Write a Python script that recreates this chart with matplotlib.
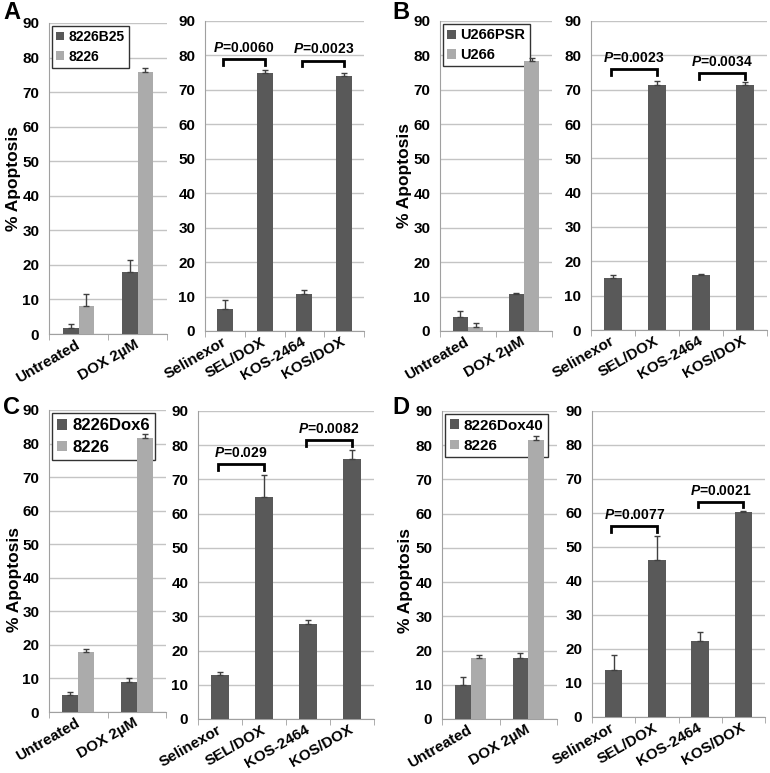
import numpy as np
import matplotlib
matplotlib.use("Agg")
import matplotlib.pyplot as plt

plt.rcParams["font.family"] = ["Liberation Sans", "DejaVu Sans"]
plt.rcParams["font.weight"] = "bold"
plt.rcParams["axes.labelweight"] = "bold"
plt.rcParams["mathtext.fontset"] = "custom"
plt.rcParams["mathtext.it"] = "Liberation Sans:italic:bold"
plt.rcParams["mathtext.rm"] = "Liberation Sans:bold"

DARK = "#595959"
LIGHT = "#ababab"
GRID = "#c4c4c4"
SPINE = "#a0a0a0"

GROUPS = ["Untreated", "DOX 2µM"]
DRUGS = ["Selinexor", "SEL/DOX", "KOS-2464", "KOS/DOX"]

# panel A
A_NAMES = ["8226B25", "8226"]
A_RES = [1.8, 17.8]
A_RES_ERR = [1.2, 3.6]
A_PAR = [8.2, 75.7]
A_PAR_ERR = [3.5, 1.3]
A_DRUG = [6.5, 75.0, 10.7, 74.0]
A_DRUG_ERR = [2.5, 0.7, 1.3, 0.8]
A_P = ["0.0060", "0.0023"]

# panel B
B_NAMES = ["U266PSR", "U266"]
B_RES = [4.0, 10.8]
B_RES_ERR = [1.7, 0.3]
B_PAR = [1.2, 78.3]
B_PAR_ERR = [1.0, 1.0]
B_DRUG = [15.1, 71.3, 16.0, 71.5]
B_DRUG_ERR = [1.0, 1.3, 0.2, 0.6]
B_P = ["0.0023", "0.0034"]

# panel C
C_NAMES = ["8226Dox6", "8226"]
C_RES = [5.0, 8.8]
C_RES_ERR = [1.0, 1.2]
C_PAR = [17.8, 81.7]
C_PAR_ERR = [1.0, 1.0]
C_DRUG = [12.9, 65.0, 27.9, 76.0]
C_DRUG_ERR = [0.8, 6.2, 0.9, 2.6]
C_P = ["0.029", "0.0082"]

# panel D
D_NAMES = ["8226Dox40", "8226"]
D_RES = [10.0, 17.7]
D_RES_ERR = [2.2, 1.5]
D_PAR = [17.8, 81.5]
D_PAR_ERR = [0.8, 1.3]
D_DRUG = [13.7, 46.2, 22.3, 60.3]
D_DRUG_ERR = [4.4, 7.0, 2.6, 0.2]
D_P = ["0.0077", "0.0021"]

W, H = 770, 773
fig = plt.figure(figsize=(W / 100, H / 100), dpi=100, facecolor="white")


def px_axes(x0, x1, ytop, ybot):
    return fig.add_axes([x0 / W, 1 - ybot / H, (x1 - x0) / W, (ybot - ytop) / H])


def style(ax, ncat):
    ax.set_ylim(0, 90)
    ax.set_xlim(-0.5, ncat - 0.5)
    ax.set_yticks(range(0, 91, 10))
    ax.yaxis.grid(True, color=GRID, lw=1)
    ax.set_axisbelow(True)
    for s in ["top", "right"]:
        ax.spines[s].set_visible(False)
    for s in ["left", "bottom"]:
        ax.spines[s].set_color(SPINE)
    ax.tick_params(axis="y", length=0, pad=7, labelsize=11)
    ax.set_xticks(np.arange(ncat))
    ax.set_xticks(np.arange(ncat + 1) - 0.5, minor=True)
    ax.tick_params(axis="x", which="major", length=0, pad=7, labelsize=11)
    ax.tick_params(axis="x", which="minor", length=4, color=SPINE)
    for lab in ax.get_yticklabels():
        lab.set_fontweight("bold")
    for lab in ax.get_xticklabels():
        lab.set_fontweight("bold")
        lab.set_rotation(30)
        lab.set_ha("right")
        lab.set_va("center")
        lab.set_rotation_mode("anchor")


ERR = dict(ecolor="#404040", elinewidth=1, capsize=2.5, capthick=1)


def left_panel(ax, names, res, res_err, par, par_err, ylab_xy, legsize):
    x = np.arange(len(GROUPS))
    w = 0.27
    ax.bar(x - w / 2, res, w, color=DARK, label=names[0],
           yerr=[np.zeros(len(res)), res_err], error_kw=ERR, zorder=3)
    ax.bar(x + w / 2, par, w, color=LIGHT, label=names[1],
           yerr=[np.zeros(len(par)), par_err], error_kw=ERR, zorder=3)
    ax.set_xticks(x)
    ax.set_xticklabels(GROUPS)
    style(ax, len(GROUPS))
    leg = ax.legend(loc="upper left", bbox_to_anchor=(0.0, 1.0), fancybox=False,
                    edgecolor="#333333", framealpha=1,
                    prop={"weight": "bold", "size": legsize},
                    handlelength=0.6, handleheight=0.6, handletextpad=0.3,
                    borderpad=0.3, labelspacing=0.4, borderaxespad=0.2)
    leg.get_frame().set_linewidth(1.0)
    leg.set_zorder(2.5)
    ax.set_ylabel("% Apoptosis", fontsize=12.5)
    ax.yaxis.set_label_coords(*ylab_xy)


def right_panel(ax, vals, errs, pvals, brackets):
    x = np.arange(len(DRUGS))
    ax.bar(x, vals, 0.4, color=DARK,
           yerr=[np.zeros(len(vals)), errs], error_kw=ERR, zorder=3)
    ax.set_xticks(x)
    ax.set_xticklabels(DRUGS)
    style(ax, len(DRUGS))
    for i, (p, (ytop, ytip)) in enumerate(zip(pvals, brackets)):
        x0, x1 = 2 * i - 0.05, 2 * i + 1
        ax.plot([x0, x0, x1, x1], [ytip, ytop, ytop, ytip], color="black",
                lw=2, solid_joinstyle="miter", zorder=4)
        ax.text((x0 + x1) / 2, ytop + 1.2, r"$P$=" + p, ha="center",
                va="bottom", fontsize=10)


# panel A
ax = px_axes(49, 167, 23, 334)
left_panel(ax, A_NAMES, A_RES, A_RES_ERR, A_PAR, A_PAR_ERR, (-0.24, 0.5), 10)
ax = px_axes(205, 364, 21, 331)
right_panel(ax, A_DRUG, A_DRUG_ERR, A_P, [(78.9, 77.1), (78.5, 77.0)])

# panel B
ax = px_axes(440, 552, 21, 331)
left_panel(ax, B_NAMES, B_RES, B_RES_ERR, B_PAR, B_PAR_ERR, (-0.25, 0.5), 10.5)
ax = px_axes(591, 767, 21, 330)
right_panel(ax, B_DRUG, B_DRUG_ERR, B_P, [(76.0, 74.3), (74.9, 73.0)])

# panel C
ax = px_axes(49, 166, 410, 712)
left_panel(ax, C_NAMES, C_RES, C_RES_ERR, C_PAR, C_PAR_ERR, (-0.23, 0.44), 12)
ax = px_axes(198, 374, 411, 719)
right_panel(ax, C_DRUG, C_DRUG_ERR, C_P, [(74.5, 72.8), (81.5, 79.8)])

# panel D
ax = px_axes(442, 557, 411, 719)
left_panel(ax, D_NAMES, D_RES, D_RES_ERR, D_PAR, D_PAR_ERR, (-0.25, 0.45), 11)
ax = px_axes(592, 765, 411, 717)
right_panel(ax, D_DRUG, D_DRUG_ERR, D_P, [(56.2, 54.4), (63.2, 61.8)])

for letter, (px, py) in zip("ABCD", [(3, 19), (392, 19), (3, 414), (392, 414)]):
    fig.text(px / W, 1 - py / H, letter, fontsize=17, fontweight="bold",
             ha="left", va="baseline")

fig.savefig("out.png", dpi=100, facecolor="white")
